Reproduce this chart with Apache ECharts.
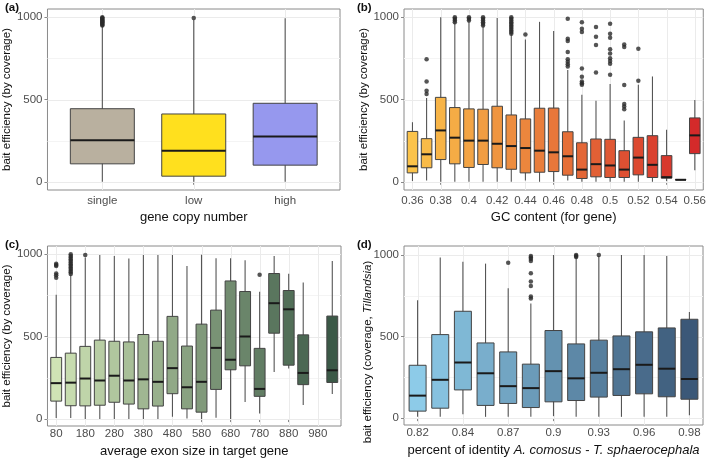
<!DOCTYPE html>
<html><head><meta charset="utf-8">
<script src="https://cdn.jsdelivr.net/npm/echarts@6/dist/echarts.min.js"></script>
<style>html,body{margin:0;padding:0;background:#fff}#c{width:709px;height:462px}</style>
</head><body><div id="c"></div>
<script>
// ---------- DATA ----------
// rows: [lower whisker, Q1, median, Q3, upper whisker]
const aCats = ['single', 'low', 'high'];
const aBox = [[0,109,253,444,945],[0,34,188,412,985],[0,101,275,477,994]];
const aOut = [[1,950],[1,955],[1,960],[1,965],[1,970],[1,975],[1,980],[1,985],[1,990],[1,995],[1,1000],[2,996]];

const bCats = ['0.36','0.37','0.38','0.39','0.4','0.41','0.42','0.43','0.44','0.45','0.46','0.47','0.48','0.49','0.5','0.51','0.52','0.53','0.54','0.55','0.56'];
const bBox = [
  [5,54,94,306,362],[8,85,167,262,509],[0,135,312,513,1000],[0,109,268,451,966],
  [0,87,250,443,976],[0,105,250,441,946],[0,85,231,459,996],[0,76,217,406,899],
  [8,54,205,382,865],[0,58,189,447,972],[0,62,179,448,916],[8,40,155,304,680],
  [0,20,74,237,529],[0,30,107,260,493],[0,26,99,258,594],[0,26,74,189,372],
  [0,42,147,270,590],[0,26,103,280,640],[5,22,28,159,316],[10,12,12,14,16],
  [70,171,282,388,497]
];
const bOut = [
  [2,744],[2,610],[2,553],[2,533],
  [4,1000],[4,990],[4,980],[4,970],
  [5,1000],[5,990],[5,980],
  [6,1000],[6,990],[6,980],[6,970],[6,960],[6,950],
  [8,1000],[8,990],[8,980],[8,970],[8,960],[8,950],[8,940],[8,930],[8,920],[8,910],[8,900],
  [9,895],
  [12,990],[12,869],[12,855],[12,789],[12,744],[12,730],[12,714],[12,700],
  [13,970],[13,930],[13,910],[13,688],[13,638],[13,610],[13,598],[13,590],
  [14,940],[14,881],[14,831],[14,664],
  [15,960],[15,899],[15,875],[15,805],[15,779],[15,750],[15,734],[15,718],[15,650],
  [16,835],[16,819],[16,588],[16,473],[16,457],[16,441],
  [17,809],[17,614]
];

const cCats = ['80','130','180','230','280','330','380','430','480','530','580','630','680','730','780','830','880','930','980','1030'];
const cBox = [
  [6,109,218,374,755],[6,81,221,400,875],[0,80,246,441,980],[0,84,234,479,996],
  [0,102,263,472,990],[0,91,234,468,974],[0,62,241,513,996],[0,79,226,472,996],
  [14,154,309,623,996],[4,62,193,443,929],[0,42,226,576,997],[8,180,432,661,975],
  [0,299,360,838,975],[103,323,501,774,964],[34,138,183,429,773],[286,521,703,883,989],
  [307,327,666,780,881],[85,209,280,511,828],null,[152,222,296,625,959]
];
const cOut = [
  [1,943],[1,935],[1,929],[1,883],[1,873],[1,857],
  [2,880],[2,890],[2,900],[2,910],[2,920],[2,930],[2,940],[2,950],[2,960],[2,970],[2,980],[2,990],[2,1000],
  [3,996],[15,875]
];

const dCats = ['0.82','0.83','0.84','0.86','0.87','0.88','0.9','0.91','0.93','0.94','0.96','0.97','0.98'];
const dBox = [
  [8,43,138,324,723],[8,61,235,512,984],[24,173,341,655,959],[8,78,275,461,947],
  [8,90,196,406,796],[8,65,184,331,702],[12,100,288,537,1000],[8,108,244,455,984],
  [8,129,278,478,994],[8,139,300,504,1000],[8,149,327,529,1000],[8,131,303,553,994],
  [18,116,240,606,651]
];
const dOut = [
  [5,953],[6,994],[6,985],[6,975],[6,963],[6,888],[6,837],[6,810],[6,745],[6,733],
  [8,1000],[8,994],[8,988],[9,1000]
];

const yTicks = [0, 500, 1000];
const yGrid = [0, 250, 500, 750, 1000];

// ---------- STYLE HELPERS ----------
const FONT = 'Liberation Sans, Arial, sans-serif';
function hex(c){return [parseInt(c.slice(1,3),16),parseInt(c.slice(3,5),16),parseInt(c.slice(5,7),16)];}
function grad(c0, c1, t){
  const a = hex(c0), b = hex(c1);
  return 'rgb(' + a.map((v,i)=>Math.round(v + (b[i]-v)*t)).join(',') + ')';
}
const aColors = ['#B9B09F', '#FFE01E', '#9698EE'];

const grids = [
  {left:44, top:9, width:296, height:181},
  {left:404, top:9, width:300, height:181},
  {left:43, top:246, width:298, height:180},
  {left:404, top:246, width:299, height:179}
];

const panels = [
  {cats:aCats, box:aBox, out:aOut, bw:0.70, color:(i,n)=>aColors[i], xname:'gene copy number', step:1,
   yname:'bait efficiency (by coverage)', ygap:29, ymin:-50, ymax:1050},
  {cats:bCats, box:bBox, out:bOut, bw:0.75, color:(i,n)=>grad('#FBC34A','#D42A2A', i/(n-1)), xname:'GC content (for gene)', step:2,
   yname:'bait efficiency (by coverage)', ygap:31, ymin:-50, ymax:1050},
  {cats:cCats, box:cBox, out:cOut, bw:0.75, color:(i,n)=>grad('#CFE3B5','#3B5947', i/(n-1)), xname:'average exon size in target gene', step:2,
   yname:'bait efficiency (by coverage)', ygap:28.5, ymin:-42, ymax:1050},
  {cats:dCats, box:dBox, out:dOut, bw:0.75, color:(i,n)=>grad('#8DCBE8','#3B5878', i/(n-1)),
   xname:'percent of identity {i|A. comosus} - {i|T. sphaerocephala}', step:2,
   yname:'', ygap:30, ymin:-42, ymax:1055}
];

const xAxes = [], yAxes = [], series = [];
panels.forEach((p, k) => {
  const n = p.cats.length;
  const labelPos = [];
  for (let i = 1; i <= n; i += p.step) labelPos.push(i);
  const bottomRow = k >= 2;
  xAxes.push({
    type:'value', gridIndex:k, min:0.4, max:n+0.6,
    axisLine:{show:false}, splitLine:{show:false},
    axisTick:{show:true, customValues:labelPos, length:3, lineStyle:{color:'#888'}},
    axisLabel:{customValues:labelPos, formatter:(v)=>p.cats[Math.round(v)-1], color:'#4d4d4d', fontSize:11.5, fontFamily:FONT, margin: bottomRow ? 2 : 5},
    name:p.xname, nameLocation:'middle', nameGap: bottomRow ? 19 : 21,
    nameTextStyle:{color:'#111', fontSize:13, fontFamily:FONT, rich:{i:{fontStyle:'italic', fontSize:13, color:'#111', fontFamily:FONT}}}
  });
  yAxes.push({
    type:'value', gridIndex:k, min:p.ymin, max:p.ymax,
    axisLine:{show:false}, splitLine:{show:false},
    axisTick:{show:true, customValues:yTicks, length:3, lineStyle:{color:'#888'}},
    axisLabel:{customValues:yTicks, formatter:(v)=>String(v), color:'#4d4d4d', fontSize:11.5, fontFamily:FONT, margin:5},
    name:p.yname, nameLocation:'middle', nameGap:p.ygap,
    nameTextStyle:{color:'#111', fontSize:11.5, fontFamily:FONT}
  });
  // grid lines
  series.push({
    type:'custom', xAxisIndex:k, yAxisIndex:k, silent:true, z:1,
    data:[[1, 0]],
    renderItem:(params, api) => {
      const cs = params.coordSys;
      const ch = [];
      yGrid.forEach((v, j) => {
        const y = Math.round(api.coord([1, v])[1]) + 0.5;
        ch.push({type:'line', shape:{x1:cs.x, y1:y, x2:cs.x+cs.width, y2:y},
          style:{stroke: (j % 2 === 0) ? '#EBEBEB' : '#F4F4F4', lineWidth:1}});
      });
      labelPos.forEach(v => {
        const x = Math.round(api.coord([v, 0])[0]) + 0.5;
        ch.push({type:'line', shape:{x1:x, y1:cs.y, x2:x, y2:cs.y+cs.height},
          style:{stroke:'#EBEBEB', lineWidth:1}});
      });
      return {type:'group', children:ch};
    }
  });
  // boxes
  const boxData = [];
  p.box.forEach((r, i) => { if (r) boxData.push([i+1].concat(r)); });
  series.push({
    type:'custom', xAxisIndex:k, yAxisIndex:k, z:3,
    encode:{x:0, y:[1,2,3,4,5]},
    data:boxData,
    renderItem:(params, api) => {
      const x = api.value(0);
      const lo = api.coord([x, api.value(1)]);
      const q1 = api.coord([x, api.value(2)]);
      const md = api.coord([x, api.value(3)]);
      const q3 = api.coord([x, api.value(4)]);
      const hi = api.coord([x, api.value(5)]);
      const hw = api.size([p.bw, 0])[0] / 2;
      const cx = lo[0];
      return {type:'group', children:[
        {type:'line', shape:{x1:cx, y1:lo[1], x2:cx, y2:hi[1]}, style:{stroke:'#555', lineWidth:1.1}},
        {type:'rect', shape:{x:cx-hw, y:q3[1], width:2*hw, height:Math.max(q1[1]-q3[1], 0.5)},
          style:{fill:p.color(x-1, n), stroke:'#444', lineWidth:1}},
        {type:'line', shape:{x1:cx-hw, y1:md[1], x2:cx+hw, y2:md[1]}, style:{stroke:'#1a1a1a', lineWidth:2}}
      ]};
    }
  });
  // outliers
  series.push({
    type:'scatter', xAxisIndex:k, yAxisIndex:k, z:4,
    symbol:'circle', symbolSize:4.5,
    itemStyle:{color:'#2b2b2b'},
    data:p.out
  });
});

const chart = echarts.init(document.getElementById('c'), null, {renderer:'canvas'});
chart.setOption({
  animation:false,
  textStyle:{fontFamily:FONT},
  grid: grids.map(g => Object.assign({show:true, borderColor:'#8a8a8a', borderWidth:1, backgroundColor:'#fff', containLabel:false}, g)),
  xAxis: xAxes,
  yAxis: yAxes,
  series: series,
  graphic: [
    {type:'text', left:5, top:2, style:{text:'(a)', font:'bold 11.5px ' + FONT, fill:'#111'}},
    {type:'text', left:357, top:2, style:{text:'(b)', font:'bold 11.5px ' + FONT, fill:'#111'}},
    {type:'text', left:5, top:239, style:{text:'(c)', font:'bold 11.5px ' + FONT, fill:'#111'}},
    {type:'text', left:357, top:239, style:{text:'(d)', font:'bold 11.5px ' + FONT, fill:'#111'}},
    {type:'text', x:368, y:352, rotation:Math.PI/2,
     style:{text:'{n|bait efficiency (coverage, }{i|Tillandsia}{n|)}', align:'center', verticalAlign:'middle',
       rich:{n:{fontSize:11.5, fontFamily:FONT, fill:'#111'}, i:{fontSize:11.5, fontStyle:'italic', fontFamily:FONT, fill:'#111'}}}}
  ]
});
</script></body></html>
